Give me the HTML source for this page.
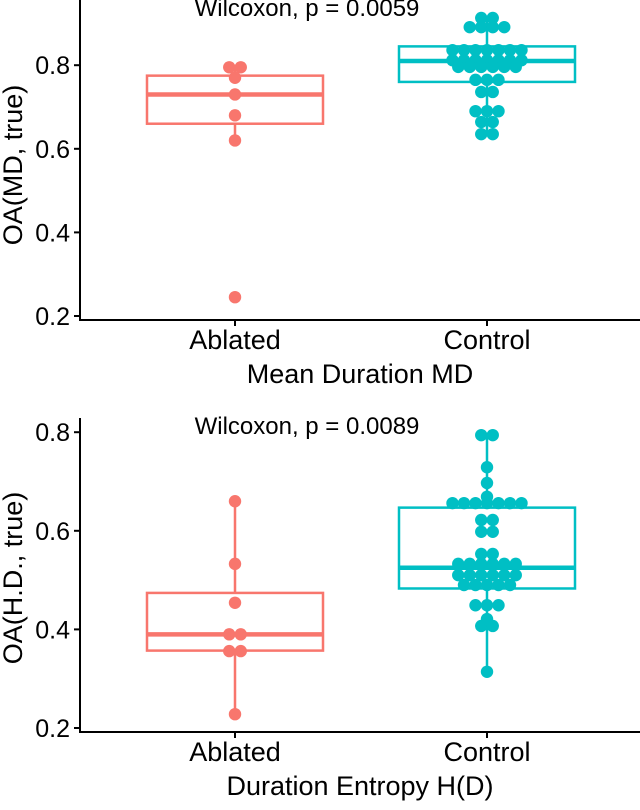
<!DOCTYPE html>
<html><head><meta charset="utf-8"><style>
body{margin:0;background:#fff;}
svg text{font-family:"Liberation Sans",sans-serif;}
</style></head><body>
<svg id="c" width="640" height="805" xmlns="http://www.w3.org/2000/svg"></svg>
<script>
const groups = ["Ablated","Control"];
const topAblated = [0.795,0.795,0.77,0.73,0.68,0.62,0.245];
const topControl = [0.913,0.913,0.891,0.891,0.891,0.891,0.836,0.836,0.836,0.836,0.836,0.836,0.836,0.812,0.812,0.812,0.812,0.812,0.812,0.812,0.796,0.796,0.796,0.796,0.796,0.796,0.765,0.765,0.765,0.736,0.736,0.69,0.69,0.69,0.664,0.664,0.635,0.635];
const topBoxA = [0.62,0.66,0.73,0.775,0.795];
const topBoxC = [0.635,0.76,0.81,0.845,0.913];
const botAblated = [0.66,0.533,0.454,0.39,0.39,0.356,0.356,0.228];
const botControl = [0.794,0.794,0.729,0.697,0.669,0.656,0.656,0.656,0.656,0.656,0.656,0.656,0.622,0.622,0.598,0.598,0.553,0.553,0.533,0.533,0.533,0.533,0.533,0.533,0.51,0.51,0.51,0.51,0.51,0.51,0.49,0.49,0.49,0.49,0.49,0.449,0.449,0.449,0.421,0.407,0.407,0.314];
const botBoxA = [0.228,0.357,0.39,0.474,0.66];
const botBoxC = [0.314,0.483,0.525,0.647,0.794];
const topTicks = [0.2,0.4,0.6,0.8];
const botTicks = [0.2,0.4,0.6,0.8];
const svg=document.getElementById('c');
const NS="http://www.w3.org/2000/svg";
function mk(t,a,p){const e=document.createElementNS(NS,t);for(const k in a)e.setAttribute(k,a[k]);(p||svg).appendChild(e);return e;}
const xPos={Ablated:235,Control:487};
const cols={Ablated:"#F8766D",Control:"#00BFC4"};
function panel(name,yf,axisTop,axisBot,ticks,boxes,pts,pText,pY,xTitle,yTitle,yTitleY){
  const g=mk('g',{});
  
  
  const ax=mk('line',{x1:80,y1:axisTop,x2:80,y2:axisBot,stroke:'#000','stroke-width':2},g);
  
  const bx=mk('line',{x1:79,y1:axisBot,x2:640,y2:axisBot,stroke:'#000','stroke-width':2},g);
  
  ticks.forEach(t=>{
    mk('line',{x1:74,x2:80,y1:yf(t),y2:yf(t),stroke:'#000','stroke-width':2},g);
    const tx=mk('text',{x:70,y:yf(t)+9,'text-anchor':'end','font-size':25,fill:'#000'},g);
    tx.textContent=t.toFixed(1);
    
  });
  groups.forEach((gr,i)=>{
    const x=xPos[gr],c=cols[gr],b=boxes[i];
    mk('line',{x1:x,x2:x,y1:axisBot,y2:axisBot+6,stroke:'#000','stroke-width':2},g);
    const lb=mk('text',{x:x,y:axisBot+29,'text-anchor':'middle','font-size':27,fill:'#000'},g);
    lb.textContent=gr;
    const w=mk('line',{x1:x,x2:x,y1:yf(b[0]),y2:yf(b[4]),stroke:c,'stroke-width':2.5},g);
    
    const r=mk('rect',{x:x-88,y:yf(b[3]),width:176,height:yf(b[1])-yf(b[3]),fill:'#fff',stroke:c,'stroke-width':2.5},g);
    
    const m=mk('line',{x1:x-88,x2:x+88,y1:yf(b[2]),y2:yf(b[2]),stroke:c,'stroke-width':4.5},g);
    
    const counts={};pts[i].forEach(v=>counts[v]=(counts[v]||0)+1);
    const seen={};
    pts[i].forEach(v=>{
      const n=counts[v],k=seen[v]||0;seen[v]=k+1;
      const dx=(k-(n-1)/2)*11.5;
      const d=mk('circle',{cx:x+dx,cy:yf(v),r:6.2,fill:c},g);
      
      
    });
  });
  const pt=mk('text',{x:307,y:pY,'text-anchor':'middle','font-size':24,fill:'#000'},g);
  pt.textContent=pText;
  const xt=mk('text',{x:360,y:axisBot+63,'text-anchor':'middle','font-size':27,fill:'#000'},g);
  xt.textContent=xTitle;
  const yt=mk('text',{x:0,y:0,'text-anchor':'middle','font-size':27,fill:'#000',transform:`translate(22,${yTitleY}) rotate(-90)`},g);
  yt.textContent=yTitle;
}
panel('top-panel',v=>316-(v-0.2)*418,0,320,topTicks,[topBoxA,topBoxC],[topAblated,topControl],'Wilcoxon, p = 0.0059',16,'Mean Duration MD','OA(MD, true)',165);
panel('bottom-panel',v=>728-(v-0.2)*493,418,732,botTicks,[botBoxA,botBoxC],[botAblated,botControl],'Wilcoxon, p = 0.0089',434,'Duration Entropy H(D)','OA(H.D., true)',578);
</script>
</body></html>
